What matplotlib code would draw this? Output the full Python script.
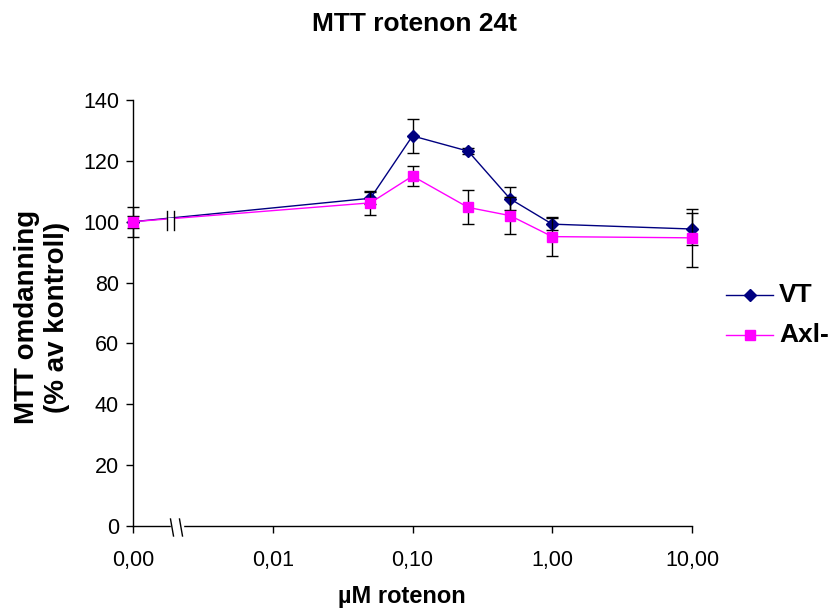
import numpy as np
import matplotlib
matplotlib.use('Agg')
import matplotlib.pyplot as plt
from matplotlib.lines import Line2D
from matplotlib.patches import Rectangle

# rotenonkonsentrasjon (µM); 0 tegnes ved aksens start
konsentrasjon = [0, 0.05, 0.1, 0.25, 0.5, 1, 10]
null_pos = 0.001

vt = [100, 107.7, 128.2, 123.2, 107.5, 99.2, 97.6]
vt_sd = [5, 2, 5.7, 1, 3.8, 2, 5.3]

axl = [100, 106.2, 115, 104.7, 102, 95.1, 94.7]
axl_sd = [2, 4, 3.3, 5.6, 6.2, 6.3, 9.5]

x_ticks = [0.001, 0.01, 0.1, 1, 10]
x_ticklabels = ['0,00', '0,01', '0,10', '1,00', '10,00']
y_ticks = [0, 20, 40, 60, 80, 100, 120, 140]

tick_font = ['Liberation Sans Narrow', 'Liberation Sans', 'DejaVu Sans']
bold_font = ['Liberation Sans', 'DejaVu Sans']

x = [null_pos if c == 0 else c for c in konsentrasjon]

fig = plt.figure(figsize=(8.34, 6.1), dpi=100)
ax = fig.add_axes([133 / 834, 84 / 610, 559 / 834, 426 / 610])

ax.errorbar(x, vt, yerr=vt_sd, color='#000080', lw=1, marker='D', ms=6,
            ecolor='black', elinewidth=1, capsize=4.5, capthick=1, zorder=3,
            clip_on=False)
ax.errorbar(x, axl, yerr=axl_sd, color='#FF00FF', lw=1, marker='s', ms=6.5,
            ecolor='black', elinewidth=1, capsize=4.5, capthick=1, zorder=4,
            clip_on=False)

ax.set_xscale('log')
ax.set_xlim(0.001, 10)
ax.set_ylim(0, 140)
ax.set_xticks(x_ticks)
ax.set_xticklabels(x_ticklabels)
ax.xaxis.set_minor_locator(matplotlib.ticker.NullLocator())
ax.set_yticks(y_ticks)
ax.set_yticklabels([str(v) for v in y_ticks])

for s in ['top', 'right']:
    ax.spines[s].set_visible(False)
for s in ['left', 'bottom']:
    ax.spines[s].set_linewidth(1)
ax.tick_params(axis='both', direction='out', length=5, width=1)
ax.tick_params(axis='x', pad=12)
ax.tick_params(axis='y', pad=5)
for lbl in ax.get_xticklabels() + ax.get_yticklabels():
    lbl.set_family(tick_font)
    lbl.set_fontsize(15.5)

# brudd i x-aksen og i kurvene mellom 0 og første konsentrasjon
fig_px = lambda px, py: (px / 834, 1 - py / 610)
fig.patches.append(Rectangle(fig_px(171, 528), 12 / 834, 4 / 610,
                             transform=fig.transFigure, color='white', zorder=5))
for bx in (172, 181):
    fig.lines.append(Line2D([(bx - 1.5) / 834, (bx + 1.5) / 834],
                            [1 - 519 / 610, 1 - 536 / 610],
                            transform=fig.transFigure, color='black', lw=1, zorder=6))
fig.patches.append(Rectangle(fig_px(167, 224), 7 / 834, 6 / 610,
                             transform=fig.transFigure, color='white', zorder=5))
for bx in (166.5, 174):
    fig.lines.append(Line2D([bx / 834, bx / 834], [1 - 211 / 610, 1 - 230 / 610],
                            transform=fig.transFigure, color='black', lw=1, zorder=6))

# forklaring
for ly, col, mk, ms, navn in [(295, '#000080', 'D', 6, 'VT'),
                              (335, '#FF00FF', 's', 6.5, 'Axl-')]:
    fig.lines.append(Line2D([726 / 834, 773 / 834], [1 - ly / 610] * 2,
                            transform=fig.transFigure, color=col, lw=1))
    fig.lines.append(Line2D([749.5 / 834], [1 - ly / 610], transform=fig.transFigure,
                            color=col, marker=mk, ms=ms, lw=0))
    fig.text(779 / 834, 1 - ly / 610, navn, family=bold_font, fontsize=19,
             fontweight='bold', ha='left', va='center')

fig.text(415 / 834, 1 - 24 / 610, 'MTT rotenon 24t', family=bold_font, fontsize=19,
         fontweight='bold', ha='center', va='center')
fig.text(402 / 834, 7 / 610, 'µM rotenon', family=bold_font, fontsize=17,
         fontweight='bold', ha='center', va='baseline')
fig.text(42 / 834, 1 - 317 / 610, 'MTT omdanning\n(% av kontroll)', family=bold_font,
         fontsize=20, fontweight='bold', rotation=90, ha='center', va='center',
         multialignment='center', linespacing=1.15)

fig.savefig('out.png', dpi=100, facecolor='white')
